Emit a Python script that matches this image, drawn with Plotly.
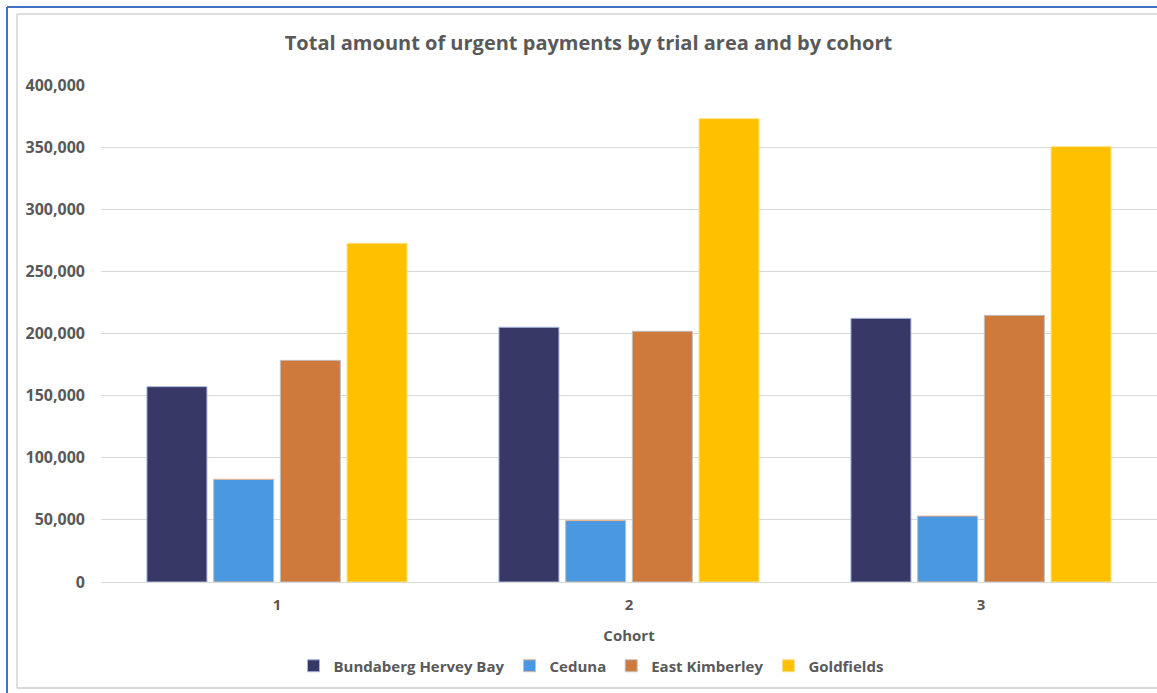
import plotly.graph_objects as go

# Data: total urgent payments per trial area, by cohort
cohorts = ["1", "2", "3"]
bundaberg = [157200, 205000, 212200]
ceduna = [82700, 49500, 53100]
east_kimberley = [178400, 201800, 214600]
goldfields = [272600, 372900, 350400]

series_names = ["Bundaberg Hervey Bay", "Ceduna", "East Kimberley", "Goldfields"]
series_values = [bundaberg, ceduna, east_kimberley, goldfields]
series_colors = ["#373866", "#4A98E0", "#CD7A3C", "#FFC000"]
edge_colors = ["#a8b6de", "#f2b48a", "#c0c0c0", "#ffe08a"]

W, H = 1157, 693
L, R, T, B = 101, 0, 85, 111
plot_w = W - L - R
plot_h = H - T - B

FONT = "Open Sans"
GREY = "#595959"

fig = go.Figure()
for name, vals, col, edge in zip(series_names, series_values, series_colors, edge_colors):
    fig.add_trace(go.Bar(
        x=cohorts, y=vals, name=name,
        marker=dict(color=col, line=dict(color=edge, width=1)),
    ))


def px_x(p):
    return (p - L) / plot_w


def px_y(p):
    return (H - B - p) / plot_h


# outer frame lines around the chart
shapes = [
    dict(type="line", xref="paper", yref="paper", x0=px_x(7), x1=px_x(W), y0=px_y(7), y1=px_y(7),
         line=dict(color="#4472C4", width=2)),
    dict(type="line", xref="paper", yref="paper", x0=px_x(7), x1=px_x(7), y0=px_y(7), y1=px_y(H),
         line=dict(color="#4472C4", width=2)),
    dict(type="line", xref="paper", yref="paper", x0=px_x(17), x1=px_x(W), y0=px_y(14), y1=px_y(14),
         line=dict(color="#bfbfbf", width=1)),
    dict(type="line", xref="paper", yref="paper", x0=px_x(17), x1=px_x(17), y0=px_y(14), y1=px_y(688),
         line=dict(color="#bfbfbf", width=1)),
    dict(type="line", xref="paper", yref="paper", x0=px_x(17), x1=px_x(W), y0=px_y(688), y1=px_y(688),
         line=dict(color="#d9d9d9", width=2)),
]

fig.update_layout(
    width=W, height=H,
    margin=dict(l=L, r=R, t=T, b=B, autoexpand=False),
    paper_bgcolor="white", plot_bgcolor="white",
    barmode="group", bargap=0.242, bargroupgap=0.1,
    font=dict(family=FONT, color=GREY),
    title=dict(
        text="Total amount of urgent payments by trial area and by cohort",
        x=px_x(588.5), xref="paper", xanchor="center",
        y=1 - 43 / H, yanchor="middle",
        font=dict(family=FONT, size=20, color=GREY, weight="bold"),
    ),
    xaxis=dict(
        type="category",
        tickfont=dict(family=FONT, size=15, color=GREY, weight="bold"),
        showline=False, ticks="", ticklabelstandoff=12,
        title=dict(text="Cohort", font=dict(family=FONT, size=15, color=GREY, weight="bold"), standoff=17),
    ),
    yaxis=dict(
        range=[0, 400000], dtick=50000, tickformat=",d",
        gridcolor="#d9d9d9", gridwidth=1,
        zeroline=True, zerolinecolor="#d9d9d9", zerolinewidth=1,
        tickfont=dict(family=FONT, size=16, color=GREY, weight="bold"),
        ticklabelstandoff=15, ticks="",
    ),
    legend=dict(
        orientation="h", x=px_x(591), xanchor="center", xref="paper",
        y=px_y(666), yanchor="middle", yref="paper",
        font=dict(family=FONT, size=15, color=GREY, weight="bold"),
        itemwidth=30, traceorder="normal",
    ),
    shapes=shapes,
)

fig.write_html("out.html")
